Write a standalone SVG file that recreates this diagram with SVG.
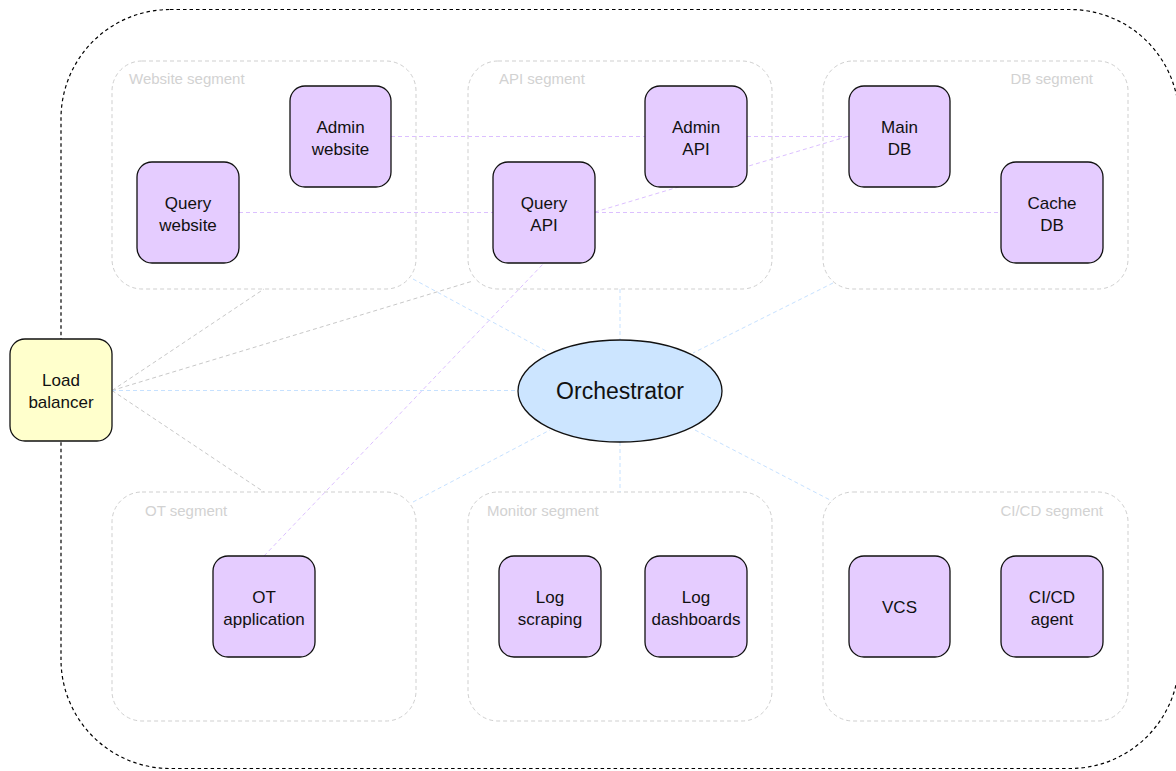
<svg xmlns="http://www.w3.org/2000/svg" width="1176" height="771" viewBox="0 0 1176 771">
<style>
.outer{fill:none;stroke:#000;stroke-width:1.2;stroke-dasharray:3.5 3}
.seg{fill:none;stroke:#cfcfcf;stroke-width:1;stroke-dasharray:4 3}
.segl{font-family:"Liberation Sans",Arial,sans-serif;font-size:15px;fill:#d2d2d2}
.node{fill:#e5ccff;stroke:#111;stroke-width:1.3}
.lb{fill:#ffffcc;stroke:#111;stroke-width:1.3}
.orch{fill:#cce5ff;stroke:#111;stroke-width:1.3}
.t{font-family:"Liberation Sans",Arial,sans-serif;font-size:17px;fill:#111;text-anchor:middle}
.to{font-family:"Liberation Sans",Arial,sans-serif;font-size:23px;fill:#111;text-anchor:middle}
.ep{fill:none;stroke:#dcc0ff;stroke-width:1;stroke-dasharray:4 3}
.eg{fill:none;stroke:#c8c8c8;stroke-width:1;stroke-dasharray:4 3}
.eb{fill:none;stroke:#c6e1ff;stroke-width:1;stroke-dasharray:4 3}
</style>
<rect width="1176" height="771" fill="#fff"/>
<rect class="outer" x="61" y="9.5" width="1118" height="759" rx="109" ry="109"/>
<g id="segments">
<g id="seg-website"><rect class="seg" x="112" y="61" width="304" height="228" rx="30"/><text class="segl" x="129" y="84">Website segment</text></g>
<g id="seg-api"><rect class="seg" x="468" y="61" width="304" height="228" rx="30"/><text class="segl" x="499" y="84">API segment</text></g>
<g id="seg-db"><rect class="seg" x="823" y="61" width="305" height="228" rx="30"/><text class="segl" x="1093" y="84" text-anchor="end">DB segment</text></g>
<g id="seg-ot"><rect class="seg" x="112" y="492" width="304" height="229" rx="30"/><text class="segl" x="145" y="516">OT segment</text></g>
<g id="seg-monitor"><rect class="seg" x="468" y="492" width="304" height="229" rx="30"/><text class="segl" x="487" y="516">Monitor segment</text></g>
<g id="seg-cicd"><rect class="seg" x="823" y="492" width="305" height="229" rx="30"/><text class="segl" x="1103" y="516" text-anchor="end">CI/CD segment</text></g>
</g>
<g id="connectors">
<line class="ep" x1="391" y1="136.5" x2="645" y2="136.5"/>
<line class="ep" x1="747" y1="136.5" x2="849" y2="136.5"/>
<line class="ep" x1="239" y1="212.5" x2="493" y2="212.5"/>
<line class="ep" x1="595" y1="212.5" x2="1001" y2="212.5"/>
<line class="ep" x1="595" y1="212" x2="849" y2="136"/>
<line class="ep" x1="264" y1="556" x2="544" y2="263"/>
<line class="eg" x1="112" y1="390.5" x2="264" y2="289"/>
<line class="eg" x1="112" y1="390.5" x2="473" y2="281"/>
<line class="eg" x1="112" y1="390.5" x2="264" y2="492"/>
<line class="eb" x1="112" y1="390.5" x2="518" y2="390.5"/>
<line class="eb" x1="413" y1="279" x2="548" y2="352"/>
<line class="eb" x1="620" y1="289" x2="620" y2="340"/>
<line class="eb" x1="833" y1="283" x2="693" y2="353"/>
<line class="eb" x1="413" y1="502" x2="550" y2="430"/>
<line class="eb" x1="620" y1="442" x2="620" y2="492"/>
<line class="eb" x1="695" y1="430" x2="832" y2="501"/>
</g>
<g id="admin-website"><rect class="node" x="290" y="86" width="101" height="101" rx="15"/><text class="t" x="340.5" y="132.5">Admin</text><text class="t" x="340.5" y="154.5">website</text></g>
<g id="query-website"><rect class="node" x="137" y="162" width="102" height="101" rx="15"/><text class="t" x="188" y="208.5">Query</text><text class="t" x="188" y="230.5">website</text></g>
<g id="admin-api"><rect class="node" x="645" y="86" width="102" height="101" rx="15"/><text class="t" x="696" y="132.5">Admin</text><text class="t" x="696" y="154.5">API</text></g>
<g id="query-api"><rect class="node" x="493" y="162" width="102" height="101" rx="15"/><text class="t" x="544" y="208.5">Query</text><text class="t" x="544" y="230.5">API</text></g>
<g id="main-db"><rect class="node" x="849" y="86" width="101" height="101" rx="15"/><text class="t" x="899.5" y="132.5">Main</text><text class="t" x="899.5" y="154.5">DB</text></g>
<g id="cache-db"><rect class="node" x="1001" y="162" width="102" height="101" rx="15"/><text class="t" x="1052" y="208.5">Cache</text><text class="t" x="1052" y="230.5">DB</text></g>
<g id="ot-app"><rect class="node" x="213" y="556" width="102" height="101" rx="15"/><text class="t" x="264" y="602.5">OT</text><text class="t" x="264" y="624.5">application</text></g>
<g id="log-scraping"><rect class="node" x="499" y="556" width="102" height="101" rx="15"/><text class="t" x="550" y="602.5">Log</text><text class="t" x="550" y="624.5">scraping</text></g>
<g id="log-dashboards"><rect class="node" x="645" y="556" width="102" height="101" rx="15"/><text class="t" x="696" y="602.5">Log</text><text class="t" x="696" y="624.5">dashboards</text></g>
<g id="vcs"><rect class="node" x="849" y="556" width="101" height="101" rx="15"/><text class="t" x="899.5" y="613">VCS</text></g>
<g id="cicd-agent"><rect class="node" x="1001" y="556" width="102" height="101" rx="15"/><text class="t" x="1052" y="602.5">CI/CD</text><text class="t" x="1052" y="624.5">agent</text></g>
<g id="load-balancer"><rect class="lb" x="10" y="339" width="102" height="102" rx="15"/><text class="t" x="61" y="386">Load</text><text class="t" x="61" y="408">balancer</text></g>
<g id="orchestrator"><ellipse class="orch" cx="620" cy="391" rx="102" ry="51"/><text class="to" x="620" y="398.5">Orchestrator</text></g>
</svg>
